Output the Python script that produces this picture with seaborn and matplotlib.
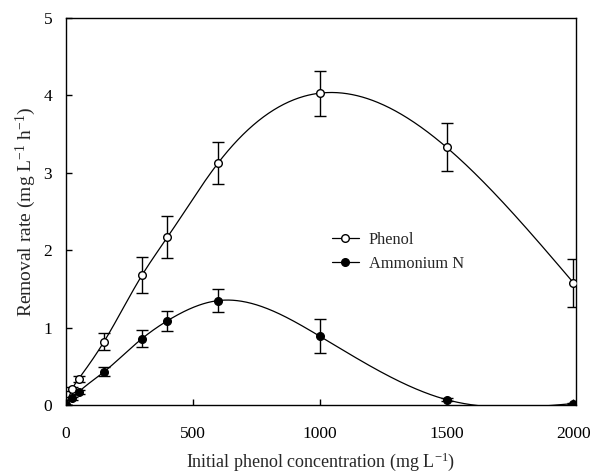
import numpy as np
import pandas as pd
import seaborn as sns
import matplotlib
matplotlib.use("Agg")
import matplotlib.pyplot as plt
from matplotlib.lines import Line2D

# data
conc = [0, 25, 50, 150, 300, 400, 600, 1000, 1500, 2000]
phenol = [0.0, 0.21, 0.34, 0.82, 1.68, 2.17, 3.13, 4.03, 3.33, 1.58]
phenol_err = [0.0, 0.03, 0.04, 0.11, 0.23, 0.27, 0.27, 0.29, 0.31, 0.31]
ammonium = [0.0, 0.09, 0.17, 0.43, 0.86, 1.09, 1.35, 0.89, 0.07, 0.02]
ammonium_err = [0.0, 0.02, 0.03, 0.06, 0.11, 0.13, 0.15, 0.22, 0.02, 0.01]


def natural_spline(x, y, xs):
    # natural cubic spline through the points, just for the smooth line
    x = np.asarray(x, float); y = np.asarray(y, float)
    n = len(x)
    h = np.diff(x)
    A = np.zeros((n, n)); b = np.zeros(n)
    A[0, 0] = A[-1, -1] = 1
    for i in range(1, n - 1):
        A[i, i - 1] = h[i - 1]
        A[i, i] = 2 * (h[i - 1] + h[i])
        A[i, i + 1] = h[i]
        b[i] = 6 * ((y[i + 1] - y[i]) / h[i] - (y[i] - y[i - 1]) / h[i - 1])
    M = np.linalg.solve(A, b)
    idx = np.clip(np.searchsorted(x, xs) - 1, 0, n - 2)
    x0, x1 = x[idx], x[idx + 1]
    hh = x1 - x0
    t0 = x1 - xs; t1 = xs - x0
    return (M[idx] * t0**3 / (6 * hh) + M[idx + 1] * t1**3 / (6 * hh)
            + (y[idx] / hh - M[idx] * hh / 6) * t0
            + (y[idx + 1] / hh - M[idx + 1] * hh / 6) * t1)


sns.set_style("ticks")
plt.rcParams['font.family'] = ['Liberation Serif', 'DejaVu Serif']
plt.rcParams['mathtext.fontset'] = 'custom'
plt.rcParams['mathtext.rm'] = 'Liberation Serif'
plt.rcParams['mathtext.it'] = 'Liberation Serif:italic'

fig = plt.figure(figsize=(6, 4.76), dpi=100)
ax = fig.add_axes([0.11, 0.149, 0.85, 0.813])

xs = np.linspace(0, 2000, 600)
curves = pd.DataFrame({
    "x": np.concatenate([xs, xs]),
    "y": np.concatenate([natural_spline(conc, phenol, xs), natural_spline(conc, ammonium, xs)]),
    "s": ["Phenol"] * len(xs) + ["Ammonium N"] * len(xs),
})
sns.lineplot(data=curves, x="x", y="y", hue="s", palette=["black", "black"],
             linewidth=0.9, legend=False, ax=ax)

ax.errorbar(conc, phenol, yerr=phenol_err, fmt="o", mfc="white", mec="black", mew=1.0,
            ms=5.5, ecolor="black", elinewidth=1.0, capsize=4, capthick=1.0, zorder=3)
ax.errorbar(conc, ammonium, yerr=ammonium_err, fmt="o", mfc="black", mec="black",
            ms=5.5, ecolor="black", elinewidth=1.0, capsize=4, capthick=1.0, zorder=3)

ax.set_xlim(0, 2010)
ax.set_ylim(0, 5)
ax.set_xticks([0, 500, 1000, 1500, 2000])
ax.set_yticks([0, 1, 2, 3, 4, 5])
ax.tick_params(direction="in", length=4, width=1, labelsize=12.5, colors="black")
ax.tick_params(axis="x", pad=15)
ax.tick_params(axis="y", pad=10)
for sp in ax.spines.values():
    sp.set_linewidth(1.0)
    sp.set_color("black")

ax.set_xlabel("Initial phenol concentration (mg L$^{\\mathrm{-1}}$)", fontsize=13, labelpad=6)
ax.set_ylabel("Removal rate (mg L$^{\\mathrm{-1}}$ h$^{\\mathrm{-1}}$)", fontsize=14, labelpad=4)

handles = [
    Line2D([], [], color="black", lw=0.9, marker="o", mfc="white", mec="black", ms=5.5),
    Line2D([], [], color="black", lw=0.9, marker="o", mfc="black", mec="black", ms=5.5),
]
ax.legend(handles, ["Phenol", "Ammonium N"], loc="upper left", bbox_to_anchor=(0.492, 0.485),
          frameon=False, fontsize=11.8, handlelength=1.65, handletextpad=0.6,
          labelspacing=0.45)

fig.savefig("out.png", dpi=100)
